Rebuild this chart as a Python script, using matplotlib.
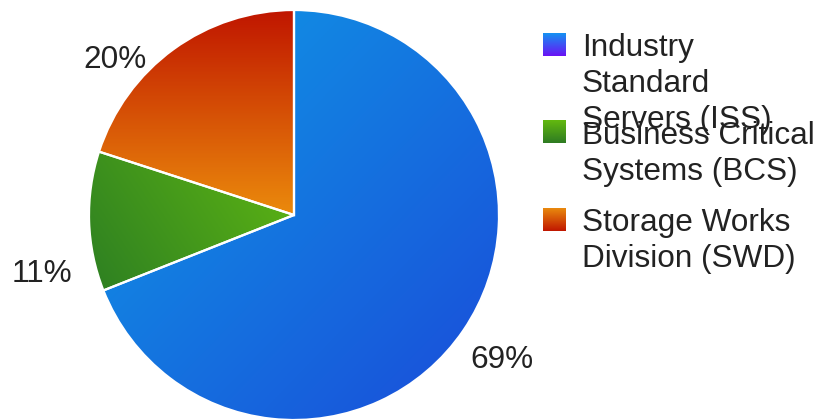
import numpy as np
import matplotlib.pyplot as plt
from matplotlib.colors import LinearSegmentedColormap
from matplotlib.patches import Rectangle

plt.rcParams.update({
    "font.family": ["Liberation Sans", "DejaVu Sans"],
    "font.size": 22.7,
})

# market share by division
divisions = ["Industry\nStandard\nServers (ISS)",
             "Business Critical\nSystems (BCS)",
             "Storage Works\nDivision (SWD)"]
shares = [69, 11, 20]

# slice gradients: (start colour, end colour, direction)
slice_grads = [("#0f9ce6", "#1a4bd9", (1, -1)),
               ("#2d7f22", "#5fb613", (1, 0.45)),
               ("#eb8a0c", "#c01600", (0, 1))]
# legend swatch gradients, top to bottom
swatch_grads = [("#1592f2", "#6a12f5"),
                ("#63b90f", "#2e7b23"),
                ("#e98a0e", "#c01600")]

W, H = 820, 419
cx, cy, R = 294, H - 215, 205
label_pos = [(470, H - 368), (12, H - 282), (83, H - 68)]

fig = plt.figure(figsize=(W / 100, H / 100), dpi=100)
ax = fig.add_axes([0, 0, 1, 1])


def gradient(ax, extent, c0, c1, vec, clip=None, z=1):
    x0, x1, y0, y1 = extent
    yy, xx = np.mgrid[0:1:200j, 0:1:200j]
    t = xx * vec[0] + yy * vec[1]
    t = (t - t.min()) / (t.max() - t.min())
    cmap = LinearSegmentedColormap.from_list("g", [c0, c1])
    im = ax.imshow(t, cmap=cmap, extent=extent, origin="lower",
                   interpolation="bilinear", zorder=z, aspect="auto")
    if clip is not None:
        im.set_clip_path(clip)
    return im


wedges, _ = ax.pie(shares, startangle=90, counterclock=False,
                   center=(cx, cy), radius=R,
                   wedgeprops=dict(facecolor="none", edgecolor="white",
                                   linewidth=1.6, zorder=3))

for w, (c0, c1, vec) in zip(wedges, slice_grads):
    bb = w.get_path().get_extents()
    gradient(ax, (bb.x0, bb.x1, bb.y0, bb.y1), c0, c1, vec, clip=w)

for v, (px, py) in zip(shares, label_pos):
    ax.text(px, py, f"{v}%", ha="left", va="baseline", color="#222222")

# legend
first_base, entry_step, line_step = H - 56, 87.5, 36
for i, (name, (c0, c1)) in enumerate(zip(divisions, swatch_grads)):
    base = first_base - i * entry_step
    top = base + 23
    gradient(ax, (543, 566, top - 23, top), c1, c0, (0, 1), z=2)
    for j, line in enumerate(name.split("\n")):
        ax.text(582, base - j * line_step, line, ha="left", va="baseline",
                color="#222222", zorder=4)

ax.set_xlim(0, W)
ax.set_ylim(0, H)
ax.set_aspect("equal")
ax.axis("off")

fig.savefig("out.png", dpi=100)
